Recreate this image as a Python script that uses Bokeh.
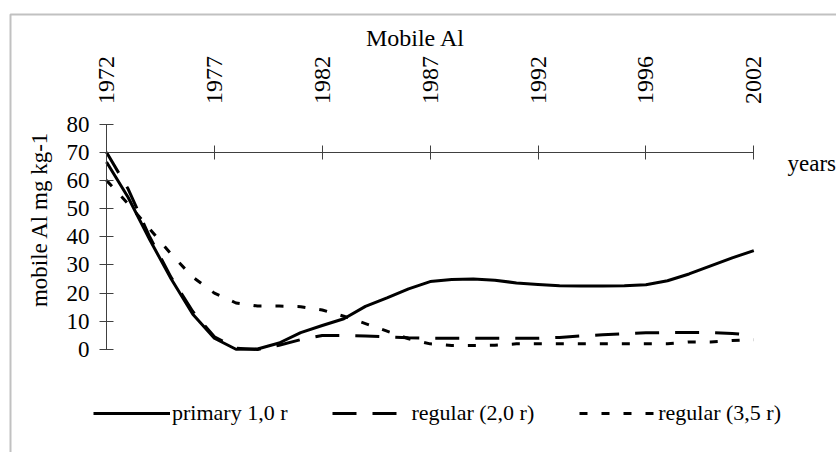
from math import pi
from bokeh.plotting import figure
from bokeh.models import (Range1d, LinearAxis, FixedTicker, Label, Legend,
                          LegendItem, BoxAnnotation)
from bokeh.embed import file_html
from bokeh.resources import INLINE

# ---- data (category index along the year axis) ----
positions = list(range(31))
tick_positions = [0, 5, 10, 15, 20, 25, 30]
tick_labels = ["1972", "1977", "1982", "1987", "1992", "1996", "2002"]
y_ticks = [0, 10, 20, 30, 40, 50, 60, 70, 80]

primary_10 = [66.5, 54, 39, 25, 12.5, 4, 0.1, 0.2, 2.3, 6.0, 8.5, 10.9, 15.3, 18.3,
              21.5, 24.1, 24.8, 25, 24.6, 23.6, 23.1, 22.6, 22.5, 22.5, 22.6, 23,
              24.4, 26.8, 29.7, 32.5, 35.1]
regular_20 = [70, 57, 40, 25.5, 13.5, 4.5, 0.5, 0, 1.5, 3.5, 5, 5, 4.8, 4.5, 4.2,
              4, 4, 4, 4, 4, 4, 4.3, 4.8, 5.2, 5.6, 5.9, 6, 6, 6, 5.7, 5]
regular_35 = [60, 51.7, 42.8, 33.8, 25.7, 20, 16.5, 15.4, 15.4, 15.2, 14.0, 11.8,
              9.2, 6.5, 3.8, 2.0, 1.4, 1.4, 1.5, 2.0, 2.0, 2.0, 2.0, 2.0, 2.0, 2.0,
              2.0, 2.7, 2.7, 3.2, 3.5]

FONT = "Liberation Serif"
AX = "#404040"

p = figure(width=836, height=452, output_backend="svg", toolbar_location=None,
           x_range=Range1d(-4.9126, 33.8324), y_range=Range1d(-36.542, 123.817),
           x_axis_location=None, y_axis_location=None, min_border=0)
p.grid.visible = False
p.outline_line_color = None
p.background_fill_color = "white"
p.border_fill_color = "white"

# horizontal axis line crossing the value axis at 70, ticks across it
x_line_axis = LinearAxis(fixed_location=70, bounds=(0, 30),
                         ticker=FixedTicker(ticks=tick_positions),
                         major_label_overrides={t: "" for t in tick_positions},
                         major_tick_in=7, major_tick_out=7,
                         minor_tick_line_color=None,
                         axis_line_color=AX, major_tick_line_color=AX,
                         major_label_text_font_size="1px")
p.add_layout(x_line_axis, "below")

# year labels placed high, above the plot area
x_label_axis = LinearAxis(fixed_location=80,
                          ticker=FixedTicker(ticks=tick_positions),
                          major_label_overrides=dict(zip(tick_positions, tick_labels)),
                          major_label_orientation="vertical",
                          axis_line_color=None, major_tick_line_color=None,
                          minor_tick_line_color=None,
                          major_tick_in=0, major_tick_out=0,
                          major_label_standoff=20,
                          major_label_text_font=FONT,
                          major_label_text_font_size="24px",
                          major_label_text_color="black")
p.add_layout(x_label_axis, "above")

yaxis = LinearAxis(fixed_location=0, bounds=(0, 80),
                   ticker=FixedTicker(ticks=y_ticks),
                   major_tick_in=7, major_tick_out=7,
                   minor_tick_line_color=None,
                   axis_line_color=AX, major_tick_line_color=AX,
                   major_label_standoff=10,
                   major_label_text_font=FONT,
                   major_label_text_font_size="23px",
                   major_label_text_color="black")
p.add_layout(yaxis, "left")

r1 = p.line(positions, primary_10, line_color="black", line_width=3,
            line_join="round")
r2 = p.line(positions, regular_20, line_color="black", line_width=3,
            line_dash="24 16")
r3 = p.line(positions, regular_35, line_color="black", line_width=3,
            line_dash="8 14")

legend = Legend(items=[LegendItem(label="primary 1,0 r", renderers=[r1]),
                       LegendItem(label="regular (2,0 r)", renderers=[r2]),
                       LegendItem(label="regular (3,5 r)", renderers=[r3])],
                orientation="horizontal", location=(93, 26),
                glyph_width=77, glyph_height=20, label_height=20,
                label_standoff=2, spacing=45, padding=0, margin=0,
                border_line_color=None, background_fill_alpha=0,
                label_text_font=FONT, label_text_font_size="22px",
                label_text_color="black")
p.add_layout(legend, "center")

p.add_layout(Label(x=15, y=80, x_offset=-14.6, y_offset=86, text="Mobile Al",
                   text_align="center", text_baseline="alphabetic",
                   text_font=FONT, text_font_size="24px", text_color="black"))
p.add_layout(Label(x=30, y=70, x_offset=33.7, y_offset=-11, text="years",
                   text_align="left", text_baseline="alphabetic",
                   text_font=FONT, text_font_size="23px", text_color="black"))
p.add_layout(Label(x=0, y=46.2, x_offset=-67, angle=pi / 2,
                   text="mobile Al mg kg-1",
                   text_align="center", text_baseline="middle",
                   text_font=FONT, text_font_size="23px", text_color="black"))

p.add_layout(BoxAnnotation(left=10, right=1000, top=14, bottom=1000,
                           left_units="canvas", right_units="canvas",
                           top_units="canvas", bottom_units="canvas",
                           fill_alpha=0, line_color="#333333", line_width=2))

open("out.html", "w").write(file_html(p, INLINE))
